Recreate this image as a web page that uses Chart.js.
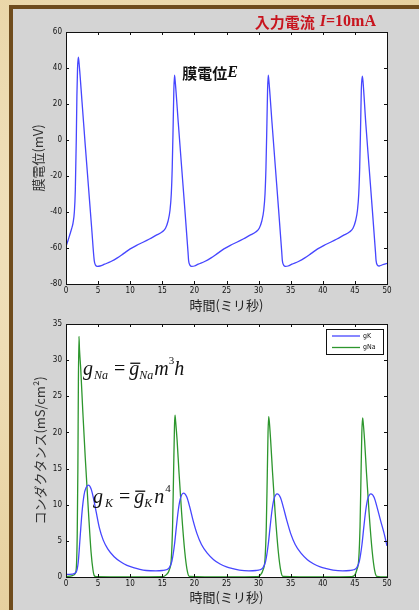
<!DOCTYPE html>
<html>
<head>
<meta charset="utf-8">
<script src="https://cdn.jsdelivr.net/npm/chart.js@4.4.1/dist/chart.umd.min.js"></script>
<style>
  html, body { margin: 0; padding: 0; }
  body {
    width: 419px; height: 610px; position: relative; overflow: hidden;
    background: radial-gradient(circle at 30% 40%, #f3e6c6 0%, #ead6a8 60%, #e4cc98 100%);
  }
  #panel {
    position: absolute; left: 9px; top: 5px; right: 0; bottom: 0;
    border-left: 4px solid #6f4c1d; border-top: 4px solid #6f4c1d;
    background: #d4d4d4;
  }
  canvas { position: absolute; left: 0; }
  #c1 { top: 0; }
  #c2 { top: 315px; }
</style>
</head>
<body>
<div id="panel"></div>
<canvas id="c1" width="419" height="315"></canvas>
<canvas id="c2" width="419" height="295"></canvas>
<script>
// membrane potential E (mV) against time (ms)
const timeE = [0, 0.3, 0.6, 0.9, 1.1, 1.3, 1.45, 1.6, 1.7, 1.8, 1.92, 2.0, 2.5, 3.0, 3.5, 4.0, 4.4, 4.6, 4.9, 5.3,
  6.0, 7.0, 8.0, 9.0, 10.0, 11.0, 12.0, 13.0, 14.0, 15.0, 15.5, 15.9, 16.2, 16.4, 16.55, 16.7, 16.8, 16.9, 17.0,
  17.5, 18.0, 18.5, 19.0, 19.1, 19.3, 19.6, 20.0,
  20.6, 21.6, 22.6, 23.6, 24.6, 25.6, 26.6, 27.6, 28.6, 29.6, 30.1, 30.5, 30.8, 31.0, 31.15, 31.3, 31.4, 31.5, 31.6,
  32.1, 32.6, 33.1, 33.6, 33.7, 33.9, 34.2, 34.6,
  35.2, 36.2, 37.2, 38.2, 39.2, 40.2, 41.2, 42.2, 43.2, 44.2, 44.7, 45.1, 45.4, 45.6, 45.75, 45.9, 46.0, 46.15, 46.25,
  46.7, 47.2, 47.7, 48.2, 48.3, 48.5, 48.8, 49.3, 50];
const valE = [-59, -56, -52.5, -49, -46, -40, -28, 0, 25, 40, 46, 44, 21, -3, -26, -49, -67, -69.5, -70.2, -70,
  -69, -67.5, -65.5, -63, -60.5, -58.5, -56.8, -55, -53, -51, -49, -45, -39, -30, -15, 10, 28, 36, 33,
  9, -14.6, -38, -62, -67, -69.5, -70.2, -70,
  -69, -67.5, -65.5, -63, -60.5, -58.5, -56.8, -55, -53, -51, -49, -45, -39, -30, -15, 10, 28, 36, 33,
  9, -14.6, -38, -62, -67, -69.5, -70.2, -70,
  -69, -67.5, -65.5, -63, -60.5, -58.5, -56.8, -55, -53, -51, -49, -45, -39, -30, -15, 10, 28, 35.5, 33,
  9, -14.6, -38, -62, -67, -69.5, -70, -69.3, -68.5];

// potassium conductance gK (mS/cm^2)
const timeK = [0, 1.0, 1.6, 1.9, 2.2, 2.5, 2.8, 3.1, 3.5, 3.9, 4.3, 4.7, 5.2, 5.8, 6.5, 7.5, 8.5, 9.5, 10.5, 11.5, 12.5, 14, 15,
  15.6, 16.1, 16.5, 16.9, 17.2, 17.5, 17.8, 18.3, 18.8, 19.3, 19.8, 20.4, 21.1, 22, 23, 24, 25, 26, 27, 28.5,
  29.6, 30.2, 30.7, 31.1, 31.5, 31.8, 32.1, 32.4, 32.9, 33.4, 33.9, 34.4, 35.0, 35.7, 36.6, 37.6, 38.6, 39.6, 40.6, 41.6, 43.1,
  44.2, 44.8, 45.3, 45.7, 46.1, 46.4, 46.7, 47.0, 47.5, 48.0, 48.5, 49.0, 49.5, 50];
const valK = [0.35, 0.4, 0.7, 2, 5.5, 9, 11.3, 12.3, 12.7, 12.2, 10.8, 9, 6.8, 5.1, 3.9, 2.8, 2.1, 1.6, 1.3, 1.05, 0.9, 0.85, 0.9,
  1.0, 1.3, 2.2, 4.5, 7, 9.3, 10.8, 11.6, 11.1, 9.6, 7.8, 6, 4.5, 3.3, 2.4, 1.8, 1.4, 1.15, 0.95, 0.85,
  0.9, 1.0, 1.3, 2.2, 4.5, 7, 9.3, 10.8, 11.5, 11.0, 9.5, 7.8, 6, 4.5, 3.3, 2.4, 1.8, 1.4, 1.15, 0.95, 0.85,
  0.9, 1.0, 1.3, 2.2, 4.5, 7, 9.3, 10.8, 11.5, 11.0, 9.5, 7.8, 6.2, 4.3];

// sodium conductance gNa (mS/cm^2)
const timeNa = [0, 1.0, 1.5, 1.65, 1.75, 1.85, 1.93, 2.02, 2.1, 2.3, 2.6, 3.0, 3.5, 3.9, 4.2, 4.4, 4.7,
  10, 15, 15.6, 16.1, 16.4, 16.6, 16.75, 16.9, 16.98, 17.08, 17.3, 17.6, 18.0, 18.5, 18.9, 19.2,
  25, 29.8, 30.3, 30.7, 31.0, 31.2, 31.35, 31.47, 31.57, 31.67, 31.87, 32.17, 32.57, 33.07, 33.47, 33.77,
  40, 44.5, 45.0, 45.3, 45.6, 45.8, 45.95, 46.08, 46.2, 46.3, 46.5, 46.8, 47.2, 47.7, 48.1, 48.4, 50];
const valNa = [0.05, 0.2, 0.6, 2, 6, 15, 27, 33.3, 31.5, 28.7, 23.2, 16.5, 9, 3.5, 1, 0.2, 0.05,
  0.02, 0.05, 0.3, 1, 2.5, 7, 14, 21, 22.4, 21.5, 19, 14.5, 9, 3.5, 0.8, 0.1,
  0.02, 0.05, 0.3, 1, 2.5, 7, 14, 20, 22.2, 21.5, 19, 14.5, 9, 3.5, 0.8, 0.1,
  0.02, 0.05, 0.3, 1, 2.5, 7, 14, 20, 22, 21.3, 19, 14.5, 9, 3.5, 0.8, 0.1, 0.02];

const seriesNames = ["gK", "gNa"];
const blue = "rgb(70,70,255)";
const green = "rgb(45,150,45)";
const jp = "'Noto Sans CJK JP', sans-serif";
const tickFont = { family: "'Liberation Sans Narrow', 'DejaVu Sans Condensed', Arial, sans-serif", size: 8 };

const pts = (xs, ys) => xs.map((x, i) => ({ x: x, y: ys[i] }));

// white plot box, black frame and inward ticks on all four sides
const frame = {
  id: "frame",
  beforeDraw(chart) {
    const a = chart.chartArea, ctx = chart.ctx;
    ctx.save();
    ctx.fillStyle = "#fff";
    ctx.fillRect(a.left, a.top, a.right - a.left, a.bottom - a.top);
    ctx.restore();
  },
  afterDatasetsDraw(chart) {
    const a = chart.chartArea, ctx = chart.ctx;
    const xs = chart.scales.x, ys = chart.scales.y;
    ctx.save();
    ctx.strokeStyle = "#111";
    ctx.lineWidth = 1;
    ctx.beginPath();
    xs.ticks.forEach(t => {
      const px = Math.round(xs.getPixelForValue(t.value)) + 0.5;
      ctx.moveTo(px, a.bottom); ctx.lineTo(px, a.bottom - 3);
      ctx.moveTo(px, a.top); ctx.lineTo(px, a.top + 3);
    });
    ys.ticks.forEach(t => {
      const py = Math.round(ys.getPixelForValue(t.value)) + 0.5;
      ctx.moveTo(a.left, py); ctx.lineTo(a.left + 3, py);
      ctx.moveTo(a.right, py); ctx.lineTo(a.right - 3, py);
    });
    ctx.stroke();
    ctx.strokeRect(Math.round(a.left) + 0.5, Math.round(a.top) + 0.5,
      Math.round(a.right - a.left), Math.round(a.bottom - a.top));
    ctx.restore();
  }
};

function pieces(ctx, x, y, list) {
  list.forEach(p => {
    ctx.font = p.font;
    ctx.fillStyle = p.color || "#111";
    const px = x + (p.dx || 0);
    ctx.fillText(p.text, px, y + (p.dy || 0));
    if (p.bar) {
      const w = ctx.measureText(p.text).width;
      ctx.fillRect(px + 1, y - 12, w, 1.3);
    }
    x = px + ctx.measureText(p.text).width;
  });
}

function scaleOpts(min, max, step, title, yTitlePad) {
  return {
    type: "linear", min: min, max: max,
    grid: { display: false, drawTicks: false, tickLength: 0 },
    border: { display: false },
    ticks: { stepSize: step, font: tickFont, color: "#111", padding: 4 },
    title: { display: true, text: title, color: "#333",
      font: { family: jp, size: 13 }, padding: { top: yTitlePad, bottom: 0 } },
    afterFit(s) { s.width = 66; }
  };
}

function xOpts(h, pad) {
  return {
    type: "linear", min: 0, max: 50,
    grid: { display: false, drawTicks: false, tickLength: 0 },
    border: { display: false },
    ticks: { stepSize: 5, font: tickFont, color: "#111", padding: 2, maxRotation: 0 },
    title: { display: true, text: "時間(ミリ秒)", color: "#222",
      font: { family: jp, size: 13 }, padding: { top: 0, bottom: pad } },
    afterFit(s) { s.height = h; }
  };
}

// top chart: membrane potential
const labelsTop = {
  id: "labelsTop",
  afterDraw(chart) {
    const ctx = chart.ctx, xs = chart.scales.x, ys = chart.scales.y, a = chart.chartArea;
    ctx.save();
    ctx.textBaseline = "middle";
    pieces(ctx, xs.getPixelForValue(18.1), ys.getPixelForValue(37.2), [
      { text: "膜電位", font: "bold 15px " + jp },
      { text: "E", font: "italic bold 16px 'Liberation Serif', serif" }
    ]);
    pieces(ctx, xs.getPixelForValue(29.4), a.top - 10, [
      { text: "入力電流", font: "bold 15px " + jp, color: "#c8141e" },
      { text: "I", font: "italic bold 16px 'Liberation Serif', serif", color: "#c8141e", dx: 5 },
      { text: "=10mA", font: "bold 16px 'Liberation Serif', serif", color: "#c8141e" }
    ]);
    ctx.restore();
  }
};

new Chart(document.getElementById("c1"), {
  type: "line",
  data: {
    datasets: [{
      label: "E",
      data: pts(timeE, valE),
      borderColor: blue, borderWidth: 1.3, pointRadius: 0, cubicInterpolationMode: "monotone"
    }]
  },
  options: {
    responsive: false, animation: false, devicePixelRatio: 1,
    layout: { padding: { top: 32, right: 32, left: 0, bottom: 0 } },
    plugins: { legend: { display: false }, tooltip: { enabled: false } },
    scales: {
      x: xOpts(31, 2),
      y: scaleOpts(-80, 60, 20, "膜電位(mV)", 30)
    }
  },
  plugins: [frame, labelsTop]
});

// bottom chart: conductances
const labelsBottom = {
  id: "labelsBottom",
  afterDraw(chart) {
    const ctx = chart.ctx, xs = chart.scales.x, ys = chart.scales.y, a = chart.chartArea;
    const it = "italic 20px 'Liberation Serif', serif";
    const sub = "italic 12px 'Liberation Serif', serif";
    const up = "20px 'Liberation Serif', serif";
    const sup = "11px 'Liberation Serif', serif";
    ctx.save();
    ctx.textBaseline = "alphabetic";
    pieces(ctx, xs.getPixelForValue(2.65), ys.getPixelForValue(28.0), [
      { text: "g", font: it },
      { text: "Na", font: sub, dy: 4, dx: 1 },
      { text: "=", font: up, dx: 6 },
      { text: "g", font: it, dx: 4, bar: true },
      { text: "Na", font: sub, dy: 4 },
      { text: "m", font: it, dx: 1 },
      { text: "3", font: sup, dy: -11 },
      { text: "h", font: it }
    ]);
    pieces(ctx, xs.getPixelForValue(4.2), ys.getPixelForValue(10.3), [
      { text: "g", font: it },
      { text: "K", font: sub, dy: 4, dx: 2 },
      { text: "=", font: up, dx: 6 },
      { text: "g", font: it, dx: 4, bar: true },
      { text: "K", font: sub, dy: 4 },
      { text: "n", font: it, dx: 2 },
      { text: "4", font: sup, dy: -11, dx: 1 }
    ]);

    // legend box in the upper right corner
    const bx = a.right - 61, by = a.top + 5, bw = 57, bh = 25;
    ctx.fillStyle = "#fff";
    ctx.fillRect(bx, by, bw, bh);
    ctx.strokeStyle = "#111";
    ctx.lineWidth = 1;
    ctx.strokeRect(bx + 0.5, by + 0.5, bw, bh);
    ctx.textBaseline = "middle";
    ctx.font = "7px " + tickFont.family;
    chart.data.datasets.forEach((d, i) => {
      const ly = by + 7 + i * 11.5;
      ctx.strokeStyle = d.borderColor;
      ctx.lineWidth = 1.3;
      ctx.beginPath();
      ctx.moveTo(bx + 6, ly); ctx.lineTo(bx + 34, ly);
      ctx.stroke();
      ctx.fillStyle = "#111";
      ctx.fillText(d.label, bx + 37, ly);
    });
    ctx.restore();
  }
};

new Chart(document.getElementById("c2"), {
  type: "line",
  data: {
    datasets: [
      { label: seriesNames[0], data: pts(timeK, valK), borderColor: blue, borderWidth: 1.3,
        pointRadius: 0, cubicInterpolationMode: "monotone" },
      { label: seriesNames[1], data: pts(timeNa, valNa), borderColor: green, borderWidth: 1.3,
        pointRadius: 0, cubicInterpolationMode: "monotone" }
    ]
  },
  options: {
    responsive: false, animation: false, devicePixelRatio: 1,
    layout: { padding: { top: 9, right: 32, left: 0, bottom: 0 } },
    plugins: { legend: { display: false }, tooltip: { enabled: false } },
    scales: {
      x: xOpts(33, 5),
      y: scaleOpts(0, 35, 5, "コンダクタンス(mS/cm²)", 32)
    }
  },
  plugins: [frame, labelsBottom]
});
</script>
</body>
</html>
